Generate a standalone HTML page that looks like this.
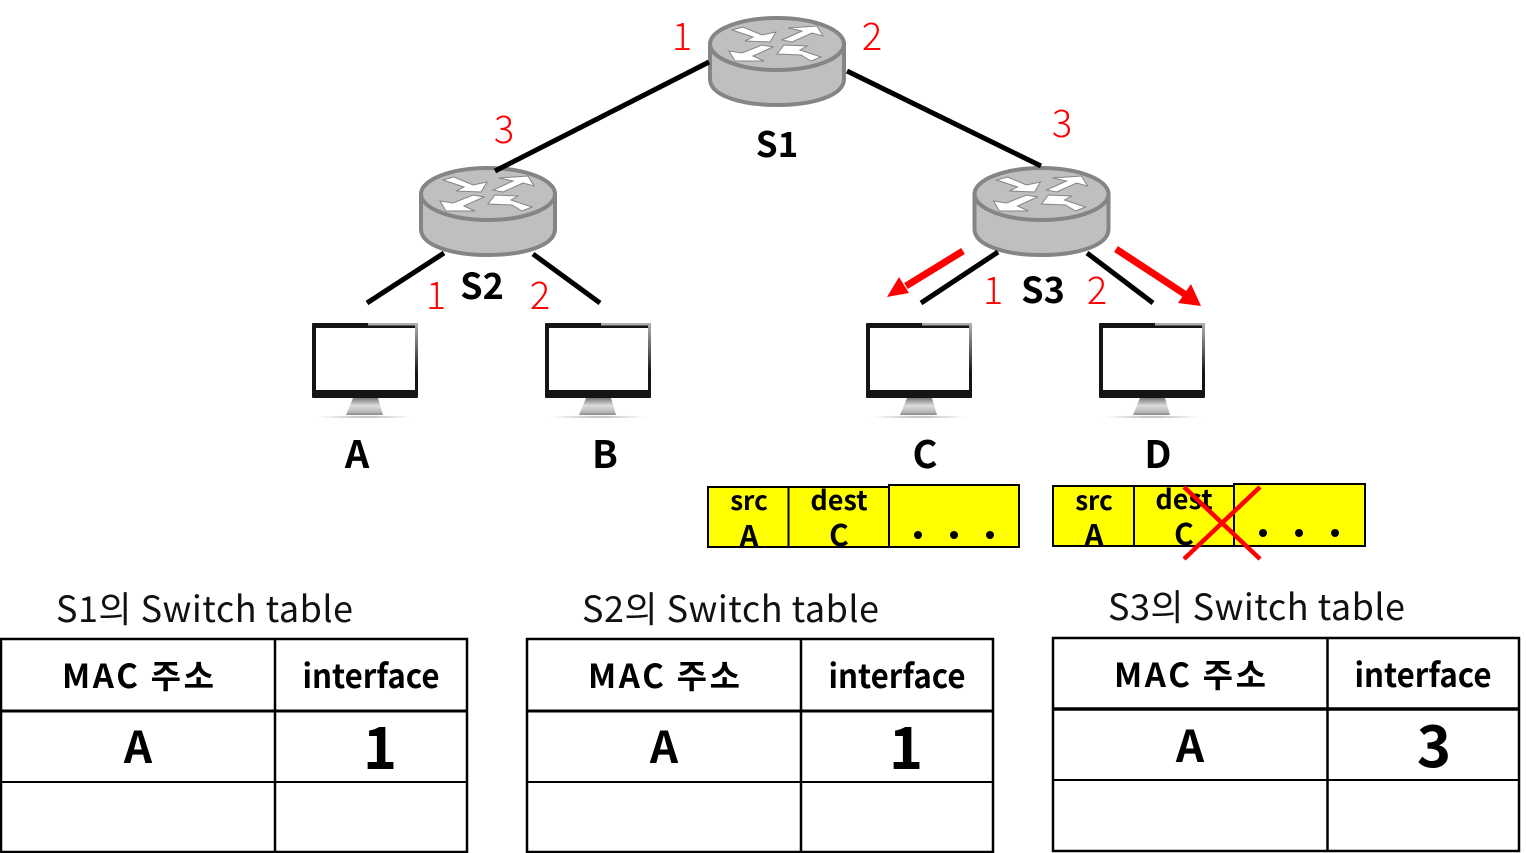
<!DOCTYPE html>
<html><head><meta charset="utf-8"><style>
html,body{margin:0;padding:0;background:#fff;width:1526px;height:853px;overflow:hidden}
svg{display:block}
text{font-family:"Liberation Sans","Noto Sans CJK KR",sans-serif}
.k{font-family:"Noto Sans CJK KR","Liberation Sans",sans-serif}
.b{font-weight:700;fill:#000;text-anchor:middle}
.r{fill:#f00;font-size:38px;text-anchor:middle;font-family:"Noto Sans CJK KR",sans-serif;font-weight:300}
.t{fill:#111;font-size:36px;font-family:"Noto Sans CJK KR",sans-serif;font-weight:400}
</style></head><body>
<svg width="1526" height="853" viewBox="0 0 1526 853" xmlns="http://www.w3.org/2000/svg">
<defs>
<g id="router">
<path d="M-67 0 V35 C-67 52 -35 61 0 61 C35 61 67 52 67 35 V0 Z" fill="#bfbfbf" stroke="#858585" stroke-width="4"/>
<ellipse cx="0" cy="0" rx="67" ry="26" fill="#bfbfbf" stroke="#858585" stroke-width="4"/>
<g fill="#fff" stroke="#858585" stroke-width="1">
<polygon points="-45,-14 -34,-17 -15,-9 -1,-12 -7,-2 -32,-3 -24,-7"/>
<polygon points="5,-4 25,-13 11,-16 40,-18 46,-8 35,-11 15,-2"/>
<polygon points="-4,3 -24,12 -13,17 -42,17 -48,7 -35,9 -15,1"/>
<polygon points="44,13 23,6 30,2 7,1 0,10 24,11 34,17"/>
</g>
</g>
<linearGradient id="st" x1="0" x2="0" y1="0" y2="1"><stop offset="0" stop-color="#777"/><stop offset=".45" stop-color="#ddd"/><stop offset=".8" stop-color="#bbb"/><stop offset="1" stop-color="#888"/></linearGradient>
<linearGradient id="rb" x1="0" x2="0" y1="0" y2="1"><stop offset="0" stop-color="#b4aeaa"/><stop offset=".4" stop-color="#666"/><stop offset=".8" stop-color="#151515"/></linearGradient>
<radialGradient id="sh"><stop offset="0" stop-color="#aaa"/><stop offset="1" stop-color="#fff"/></radialGradient>
<g id="mon">
<ellipse cx="53" cy="94" rx="50" ry="1.5" fill="url(#sh)"/>
<path d="M41 75 H66 L71 92 H34 Z" fill="url(#st)"/>
<rect x="0" y="0" width="106" height="75" rx="1" fill="#151515"/>
<rect x="56" y="0" width="50" height="2.5" fill="#b4aeaa"/>
<rect x="103" y="0" width="3" height="62" fill="url(#rb)"/>
<rect x="4" y="5" width="99" height="62" fill="#fff"/>
</g>
<g id="tbl" fill="none" stroke="#000">
<rect x="1" y="0" width="466" height="213" stroke-width="2.5"/>
<line x1="275" y1="0" x2="275" y2="213" stroke-width="2.5"/>
<line x1="1" y1="72" x2="467" y2="72" stroke-width="3"/>
<line x1="1" y1="143" x2="467" y2="143" stroke-width="2"/>
</g>
<g id="tbl3" fill="none" stroke="#000">
<rect x="1" y="0" width="466" height="213" stroke-width="2.5"/>
<line x1="275.5" y1="0" x2="275.5" y2="213" stroke-width="2.5"/>
<line x1="1" y1="71" x2="467" y2="71" stroke-width="3.5"/>
<line x1="1" y1="142" x2="467" y2="142" stroke-width="2"/>
</g>
</defs>

<use href="#router" x="777" y="44"/>
<use href="#router" x="488" y="194"/>
<use href="#router" x="1041.5" y="194"/>

<g stroke="#000" stroke-width="5" fill="none">
<line x1="709" y1="62" x2="495" y2="171"/>
<line x1="847" y1="71" x2="1041" y2="166"/>
<line x1="444" y1="253" x2="367" y2="303"/>
<line x1="533" y1="254" x2="600" y2="303"/>
<line x1="998" y1="252" x2="921" y2="303"/>
<line x1="1087" y1="253" x2="1153" y2="303"/>
</g>

<use href="#mon" x="312" y="323"/>
<use href="#mon" x="545" y="323"/>
<use href="#mon" x="866" y="323"/>
<use href="#mon" x="1099" y="323"/>

<g stroke="#f00" stroke-width="7" fill="none">
<line x1="963" y1="251" x2="906" y2="286"/>
<line x1="1116" y1="249" x2="1186" y2="295"/>
</g>
<polygon points="887,297 899,277 909,293" fill="#f00"/>
<polygon points="1201,306 1178,303 1191,284" fill="#f00"/>

<text class="r" x="682" y="50">1</text>
<text class="r" x="872" y="50">2</text>
<text class="r" x="504" y="143">3</text>
<text class="r" x="1062" y="137">3</text>
<text class="r" x="436" y="309">1</text>
<text class="r" x="540" y="309">2</text>
<text class="r" x="993" y="304">1</text>
<text class="r" x="1097" y="304">2</text>

<text class="b k" x="777" y="157" font-size="35">S1</text>
<text class="b k" x="482" y="299" font-size="36">S2</text>
<text class="b k" x="1043" y="303" font-size="36">S3</text>
<text class="b k" x="357" y="468" font-size="38">A</text>
<text class="b k" x="605" y="468" font-size="38">B</text>
<text class="b k" x="925" y="468" font-size="38">C</text>
<text class="b k" x="1158" y="468" font-size="38">D</text>

<g fill="#ff0" stroke="#000" stroke-width="2">
<rect x="708" y="487" width="80.5" height="60"/>
<rect x="788.5" y="487" width="100.5" height="60"/>
<rect x="889" y="485" width="130" height="62"/>
<rect x="1053" y="486" width="81" height="60"/>
<rect x="1134" y="486" width="100" height="60"/>
<rect x="1234" y="484" width="131" height="62"/>
</g>
<g fill="#000">
<circle cx="918" cy="535" r="4"/><circle cx="954" cy="535" r="4"/><circle cx="990" cy="535" r="4"/>
<circle cx="1263" cy="533" r="4"/><circle cx="1299" cy="533" r="4"/><circle cx="1335" cy="533" r="4"/>
</g>
<text class="b k" x="749" y="510" font-size="26">src</text>
<text class="b k" x="749" y="547" font-size="30">A</text>
<text class="b k" x="839" y="510" font-size="27">dest</text>
<text class="b k" x="839" y="546" font-size="30">C</text>
<text class="b k" x="1094" y="510" font-size="26">src</text>
<text class="b k" x="1094" y="546" font-size="30">A</text>
<text class="b k" x="1184" y="509" font-size="27">dest</text>
<text class="b k" x="1184" y="545" font-size="30">C</text>
<g stroke="#f00" stroke-width="4.5">
<line x1="1184" y1="487" x2="1260" y2="559"/>
<line x1="1260" y1="487" x2="1184" y2="559"/>
</g>

<use href="#tbl" x="0" y="639"/>
<use href="#tbl" x="526" y="639"/>
<use href="#tbl3" x="1052" y="638"/>

<text class="t" x="56" y="622" textLength="297">S1의 Switch table</text>
<text class="t" x="582" y="622" textLength="297">S2의 Switch table</text>
<text class="t" x="1108" y="620" textLength="297">S3의 Switch table</text>

<text class="b k" x="138" y="688" font-size="33" textLength="152">MAC 주소</text>
<text class="b k" x="371" y="688" font-size="33" textLength="137" lengthAdjust="spacingAndGlyphs">interface</text>
<text class="b k" x="138" y="763" font-size="44">A</text>
<text class="b k" x="380" y="769" font-size="58">1</text>

<text class="b k" x="664" y="688" font-size="33" textLength="152">MAC 주소</text>
<text class="b k" x="897" y="688" font-size="33" textLength="137" lengthAdjust="spacingAndGlyphs">interface</text>
<text class="b k" x="664" y="763" font-size="44">A</text>
<text class="b k" x="906" y="769" font-size="58">1</text>

<text class="b k" x="1190" y="687" font-size="33" textLength="152">MAC 주소</text>
<text class="b k" x="1423" y="687" font-size="33" textLength="137" lengthAdjust="spacingAndGlyphs">interface</text>
<text class="b k" x="1190" y="762" font-size="44">A</text>
<text class="b k" x="1434" y="767" font-size="58">3</text>
</svg>
</body></html>
